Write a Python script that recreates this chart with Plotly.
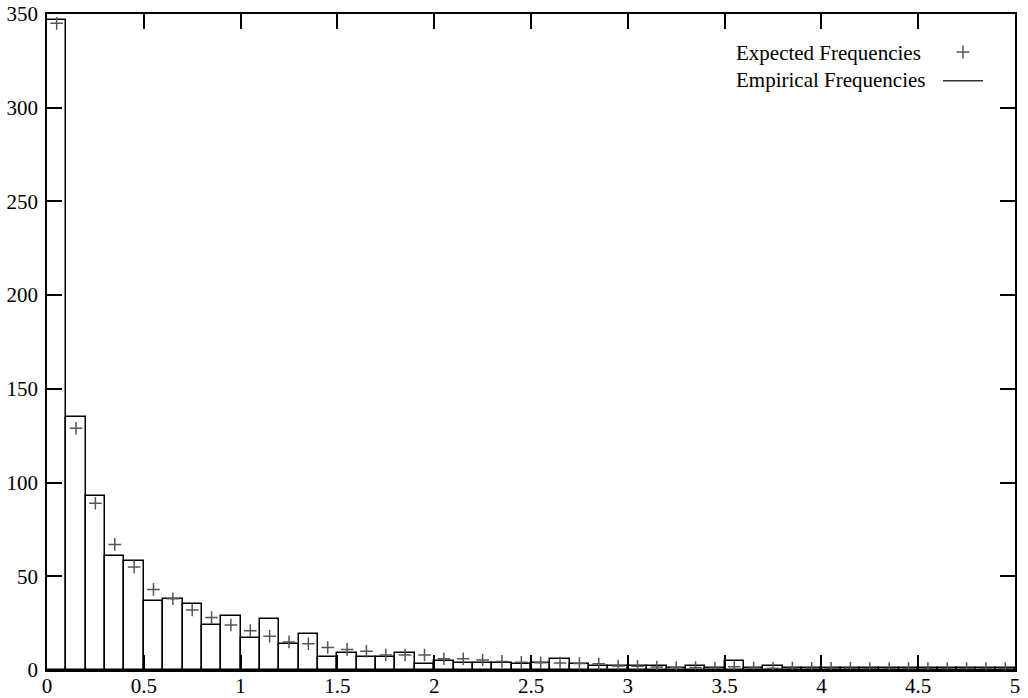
import numpy as np
import plotly.graph_objects as go

# Bin left edges (width 0.1) from 0 to 4.9
bin_left = np.round(np.arange(0.0, 5.0, 0.1), 1)
bin_width = 0.1
bin_center = np.round(bin_left + bin_width / 2, 2)

empirical = [347, 135, 93, 61, 58, 37, 38, 35, 24, 29,
             17, 27, 14, 19, 7, 9, 7, 7, 9, 3,
             5, 4, 4, 4, 3, 4, 6, 3, 2, 2,
             2, 2, 1, 2, 1, 5, 1, 2, 1, 1,
             1, 1, 1, 1, 1, 1, 1, 1, 1, 1]

expected = [345, 129, 89, 67, 55, 43, 38, 32, 28, 24,
            21, 18, 15, 14, 12, 11, 10, 8, 8, 8,
            6, 6, 5.3, 4.6, 4.1, 3.9, 3.7, 3.5, 3.3, 2.1,
            2, 1.6, 1.3, 1.3, 1.1, 1.8, 1.1, 1.0, 1.0, 0.9,
            0.9, 0.9, 0.8, 0.8, 0.8, 0.8, 0.8, 0.8, 0.8, 0.8]

x_ticks = [0, 0.5, 1, 1.5, 2, 2.5, 3, 3.5, 4, 4.5, 5]
y_ticks = [0, 50, 100, 150, 200, 250, 300, 350]

FONT = "Liberation Serif, Times New Roman, serif"

fig = go.Figure()
fig.add_trace(go.Bar(
    x=bin_center, y=empirical, width=bin_width,
    marker=dict(color="white", line=dict(color="black", width=1.5)),
    name="Empirical Frequencies", showlegend=False,
))
fig.add_trace(go.Scatter(
    x=bin_center, y=expected, mode="markers",
    marker=dict(symbol="cross-thin", size=9,
                line=dict(color="#555555", width=1.5)),
    name="Expected Frequencies", showlegend=False,
))

axis_common = dict(
    showline=True, linecolor="black", linewidth=1.5, mirror="ticks",
    ticks="inside", ticklen=15, tickwidth=1.5, tickcolor="black",
    showgrid=False, zeroline=False, automargin=False,
    tickfont=dict(family=FONT, size=21, color="black"),
)
fig.update_xaxes(range=[0, 5], tickvals=x_ticks, ticklabelstandoff=-4,
                 ticktext=[f"{v:g}" for v in x_ticks], **axis_common)
fig.update_yaxes(range=[0, 350], tickvals=y_ticks, ticklabelstandoff=3,
                 **axis_common)

# Key (gnuplot style: text then sample)
fig.add_annotation(xref="paper", yref="paper", x=0.7097, y=0.940,
                   xanchor="left", yanchor="middle", showarrow=False,
                   text="Expected Frequencies",
                   font=dict(family=FONT, size=21, color="black"))
fig.add_annotation(xref="paper", yref="paper", x=0.7097, y=0.899,
                   xanchor="left", yanchor="middle", showarrow=False,
                   text="Empirical Frequencies",
                   font=dict(family=FONT, size=21, color="black"))
# plus sample
fig.add_shape(type="line", xref="paper", yref="paper",
              x0=0.9396, x1=0.9530, y0=0.942, y1=0.942,
              line=dict(color="#555555", width=1.5))
fig.add_shape(type="line", xref="paper", yref="paper",
              x0=0.9463, x1=0.9463, y0=0.932, y1=0.952,
              line=dict(color="#555555", width=1.5))
# line sample
fig.add_shape(type="line", xref="paper", yref="paper",
              x0=0.9256, x1=0.9669, y0=0.8983, y1=0.8983,
              line=dict(color="#333333", width=1.5))

fig.update_layout(
    width=1028, height=698,
    margin=dict(l=47, r=13, t=14, b=28, autoexpand=False),
    paper_bgcolor="white", plot_bgcolor="white",
    bargap=0, showlegend=False,
)

fig.write_html(
    "out.html",
    config={"displayModeBar": False},
    post_script="document.body.style.margin='0';document.body.style.overflow='hidden';",
)
